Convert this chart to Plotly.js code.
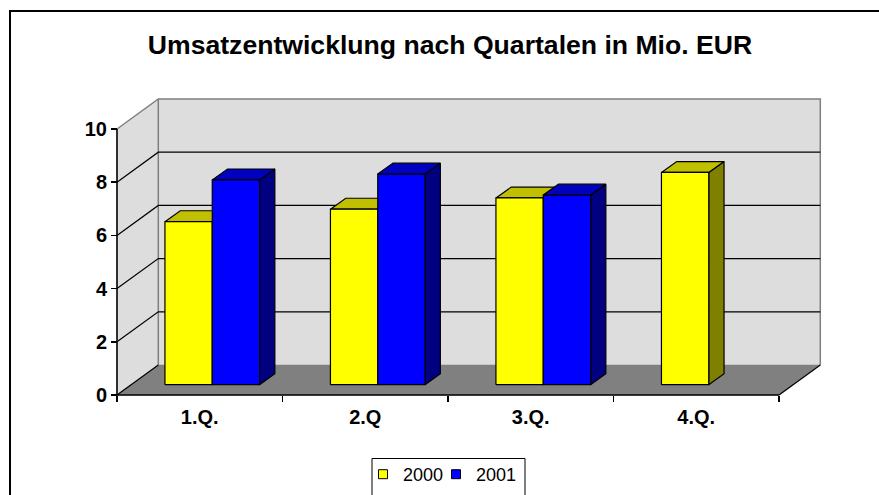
<!DOCTYPE html>
<html>
<head>
<meta charset="utf-8">
<script src="https://cdn.plot.ly/plotly-3.0.1.min.js"></script>
<style>html,body{margin:0;padding:0;background:#fff;}#chart{width:879px;height:495px;}</style>
</head>
<body>
<div id="chart"></div>
<script>
// ---- data ----
const categories = ['1.Q.', '2.Q', '3.Q.', '4.Q.'];
const seriesNames = ['2000', '2001'];
const values2000 = [6.13, 6.6, 7.02, 7.98];
const values2001 = [7.7, 7.92, 7.13, null];
const yTickVals = [0, 2, 4, 6, 8, 10];
const gridVals = [2, 4, 6, 8];

// ---- layout / style constants ----
const W = 879, H = 495;
const M = {l: 100, r: 40, t: 90, b: 90, autoexpand: false};
const PX_X = 165.5, PX_Y = 26.6;          // pixels per data unit
const ORIGIN_X = 117, ORIGIN_Y = 395;     // pixel of (0,0) front corner
const xRange = [(M.l - ORIGIN_X) / PX_X, (W - M.r - ORIGIN_X) / PX_X];
const yRange = [-(H - M.b - ORIGIN_Y) / PX_Y, (ORIGIN_Y - M.t) / PX_Y];
const DX = 41.3 / PX_X, DY = 30 / PX_Y;   // wall depth vector
const BOX = 12.5 / PX_X, BOY = 10.3 / PX_Y; // bar front offset
const BDX = 15.3 / PX_X, BDY = 10.9 / PX_Y; // bar depth vector
const BW = 47.3 / PX_X;                   // bar width
const NCAT = categories.length;
const YMAX = yTickVals[yTickVals.length - 1];

const colors = {
  '2000': {front: '#FFFF00', top: '#C0C000', side: '#808000'},
  '2001': {front: '#0000FF', top: '#0000C0', side: '#000080'}
};
const WALL = '#DDDDDD', FLOOR = '#808080', EDGE = '#808080';
const FONT = 'Liberation Sans, Arial, sans-serif';

const pw = W - M.l - M.r, ph = H - M.t - M.b;
const paperX = px => (px - M.l) / pw;
const paperY = py => (H - M.b - py) / ph;

function polys(list) {
  const x = [], y = [];
  list.forEach(p => {
    p.forEach(pt => { x.push(pt[0]); y.push(pt[1]); });
    x.push(p[0][0]); y.push(p[0][1]);
    x.push(null); y.push(null);
  });
  return {x, y};
}
function fillTrace(list, fill, lineColor, lw) {
  const d = polys(list);
  return {type: 'scatter', mode: 'lines', x: d.x, y: d.y, fill: 'toself',
    fillcolor: fill, line: {color: lineColor, width: lw}, hoverinfo: 'skip',
    showlegend: false};
}
function lineTrace(segs, color, lw) {
  const x = [], y = [];
  segs.forEach(s => { s.forEach(pt => { x.push(pt[0]); y.push(pt[1]); }); x.push(null); y.push(null); });
  return {type: 'scatter', mode: 'lines', x, y, line: {color, width: lw},
    hoverinfo: 'skip', showlegend: false};
}

const traces = [];
// walls and floor
traces.push(fillTrace([[[0, 0], [DX, DY], [DX, YMAX + DY], [0, YMAX]]], WALL, WALL, 0.5));
traces.push(fillTrace([[[DX, DY], [NCAT + DX, DY], [NCAT + DX, YMAX + DY], [DX, YMAX + DY]]], WALL, WALL, 0.5));
traces.push(fillTrace([[[0, 0], [NCAT, 0], [NCAT + DX, DY], [DX, DY]]], FLOOR, FLOOR, 0.5));
// gray edges
traces.push(lineTrace([
  [[0, YMAX], [DX, YMAX + DY], [NCAT + DX, YMAX + DY], [NCAT + DX, DY]],
  [[DX, DY], [DX, YMAX + DY]]
], EDGE, 1.5));
// black gridlines on side and back wall
traces.push(lineTrace(gridVals.map(v => [[0, v], [DX, v + DY], [NCAT + DX, v + DY]]), '#000000', 1.2));
traces.push(lineTrace([[[0, 0], [DX, DY]], [[NCAT, 0], [NCAT + DX, DY]]], '#000000', 1.2));

// bars
const seriesData = [values2000, values2001];
seriesData.forEach((vals, si) => {
  const c = colors[seriesNames[si]];
  const sides = [], tops = [], fronts = [];
  vals.forEach((v, k) => {
    if (v === null || v === undefined) return;
    const x0 = k + 0.5 - BW + si * BW + BOX;
    const x1 = x0 + BW;
    const yb = BOY, yt = BOY + v;
    fronts.push([[x0, yb], [x1, yb], [x1, yt], [x0, yt]]);
    tops.push([[x0, yt], [x1, yt], [x1 + BDX, yt + BDY], [x0 + BDX, yt + BDY]]);
    sides.push([[x1, yb], [x1 + BDX, yb + BDY], [x1 + BDX, yt + BDY], [x1, yt]]);
  });
  traces.push(fillTrace(sides, c.side, '#000000', 1.2));
  traces.push(fillTrace(tops, c.top, '#000000', 1.2));
  traces.push(fillTrace(fronts, c.front, '#000000', 1.2));
});

// front axes lines
traces.push(lineTrace([[[0, 0], [0, YMAX]], [[0, 0], [NCAT, 0]]], '#000000', 1.6));

// legend entries (one legend per entry so their spacing can match the original)
seriesNames.forEach((n, i) => {
  traces.push({type: 'scatter', mode: 'markers', x: [null], y: [null], name: n,
    legend: i === 0 ? 'legend' : 'legend2',
    marker: {symbol: 'square', size: 9, color: colors[n].front, line: {color: '#000000', width: 1}},
    showlegend: true, hoverinfo: 'skip'});
});

const legendBase = {orientation: 'h', xanchor: 'left', y: paperY(456), yanchor: 'top',
  font: {family: FONT, size: 18, color: '#000000'}, bgcolor: 'rgba(0,0,0,0)', borderwidth: 0,
  itemwidth: 30};

const layout = {
  width: W, height: H,
  margin: M,
  paper_bgcolor: '#ffffff', plot_bgcolor: 'rgba(0,0,0,0)',
  font: {family: FONT, color: '#000000'},
  title: {text: 'Umsatzentwicklung nach Quartalen in Mio. EUR',
    font: {family: FONT, size: 26.6, weight: 'bold', color: '#000000'},
    x: 450 / W, xanchor: 'center', xref: 'container',
    y: 1 - 45 / H, yanchor: 'middle', yref: 'container'},
  xaxis: {range: xRange, domain: [0, 1], anchor: 'free', position: paperY(ORIGIN_Y),
    tickmode: 'array', tickvals: categories.map((_, k) => k + 0.5), ticktext: categories,
    ticks: '', showline: false, showgrid: false, zeroline: false, fixedrange: true,
    ticklabelstandoff: 8,
    tickfont: {family: FONT, size: 20, weight: 'bold', color: '#000000'},
    minor: {tick0: 0, dtick: 1, ticks: 'outside', ticklen: 6, tickwidth: 1.5, tickcolor: '#000000', showgrid: false}},
  yaxis: {range: yRange, domain: [0, 1], anchor: 'free', position: paperX(ORIGIN_X),
    tickmode: 'array', tickvals: yTickVals,
    ticks: 'outside', ticklen: 6, tickwidth: 1.5, tickcolor: '#000000',
    showline: false, showgrid: false, zeroline: false, fixedrange: true,
    tickfont: {family: FONT, size: 20, weight: 'bold', color: '#000000'}},
  showlegend: true,
  legend: Object.assign({}, legendBase, {x: paperX(363)}),
  legend2: Object.assign({}, legendBase, {x: paperX(436)}),
  shapes: [
    {type: 'rect', xref: 'paper', yref: 'paper', x0: paperX(10), x1: paperX(920), y0: paperY(540), y1: paperY(11),
      line: {color: '#000000', width: 2}, fillcolor: 'rgba(0,0,0,0)', layer: 'below'},
    {type: 'rect', xref: 'paper', yref: 'paper', x0: paperX(372), x1: paperX(525), y0: paperY(540), y1: paperY(458.5),
      line: {color: '#000000', width: 1}, fillcolor: 'rgba(0,0,0,0)'}
  ]
};

Plotly.newPlot('chart', traces, layout, {staticPlot: true, displayModeBar: false});
</script>
</body>
</html>
